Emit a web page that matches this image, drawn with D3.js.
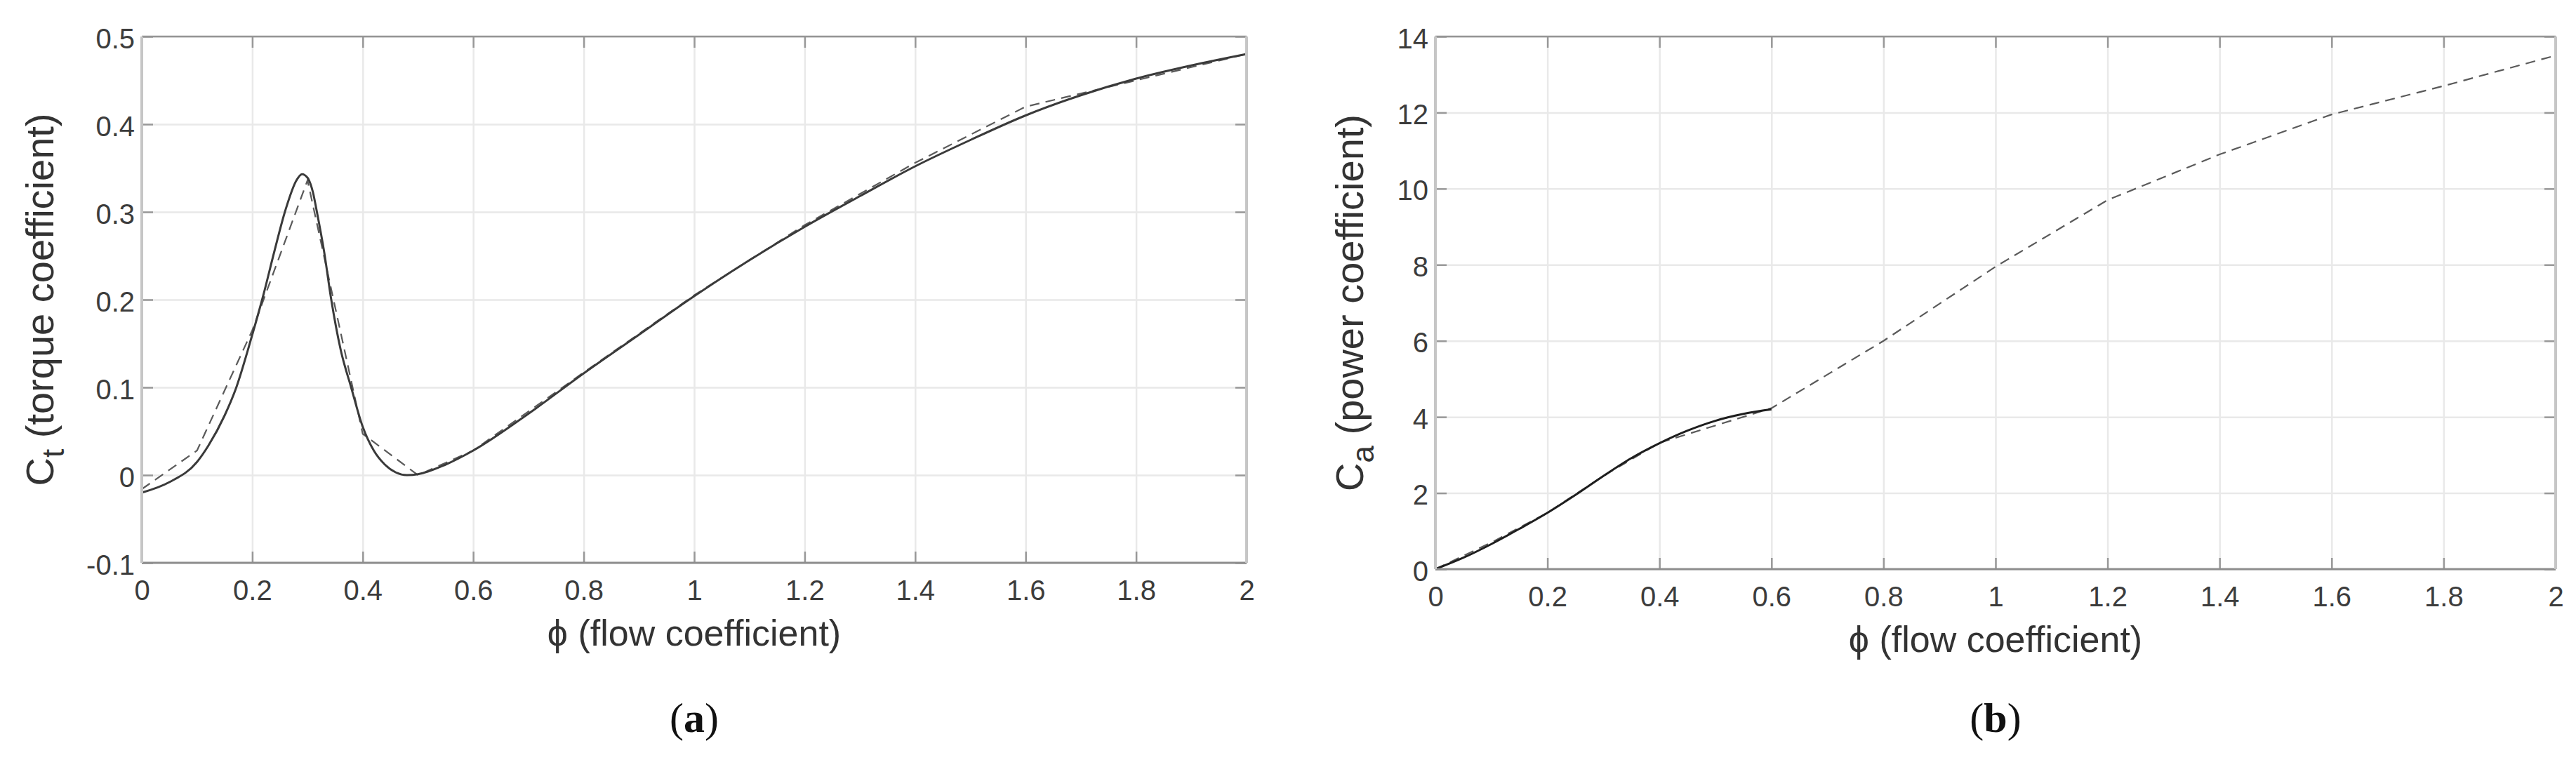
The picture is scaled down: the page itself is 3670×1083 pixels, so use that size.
<!DOCTYPE html>
<html>
<head>
<meta charset="utf-8">
<script src="https://cdn.jsdelivr.net/npm/d3@7"></script>
<style>
  html, body { margin: 0; padding: 0; background: #ffffff; }
  svg { display: block; }
</style>
</head>
<body>
<svg id="chart" width="3670" height="1083"></svg>
<script>
// ---------------- data ----------------
// Panel (a): torque coefficient
const ctSolidPhi = [0, 0.05, 0.1, 0.12, 0.15, 0.17, 0.2, 0.22, 0.24, 0.26, 0.28, 0.29, 0.3, 0.31, 0.317, 0.33, 0.343, 0.36, 0.379, 0.4, 0.42, 0.44, 0.46, 0.48, 0.5, 0.55, 0.6, 0.7, 0.8, 0.9, 1.0, 1.1, 1.2, 1.3, 1.4, 1.5, 1.6, 1.7, 1.8, 1.9, 2.0];
const ctSolidVal = [-0.020, -0.008, 0.015, 0.033, 0.068, 0.098, 0.160, 0.205, 0.255, 0.302, 0.336, 0.343, 0.339, 0.322, 0.300, 0.255, 0.200, 0.143, 0.100, 0.055, 0.028, 0.012, 0.003, 0.000, 0.001, 0.012, 0.028, 0.070, 0.116, 0.160, 0.204, 0.245, 0.283, 0.318, 0.352, 0.382, 0.410, 0.433, 0.452, 0.467, 0.480];
const ctDashPhi = [0, 0.1, 0.2, 0.3, 0.4, 0.5, 0.6, 0.8, 1.0, 1.2, 1.4, 1.6, 1.8, 2.0];
const ctDashVal = [-0.016, 0.028, 0.165, 0.336, 0.047, 0.000, 0.028, 0.117, 0.205, 0.285, 0.356, 0.420, 0.450, 0.480];

// Panel (b): power coefficient
const caSolidPhi = [0, 0.05, 0.1, 0.15, 0.2, 0.25, 0.3, 0.35, 0.4, 0.45, 0.5, 0.55, 0.6];
const caSolidVal = [0, 0.30, 0.66, 1.06, 1.48, 1.95, 2.45, 2.92, 3.31, 3.64, 3.90, 4.08, 4.20];
const caDashPhi = [0, 0.1, 0.2, 0.3, 0.4, 0.6, 0.8, 1.0, 1.2, 1.4, 1.6, 1.8, 2.0];
const caDashVal = [0, 0.70, 1.48, 2.45, 3.32, 4.23, 6.00, 7.95, 9.70, 10.90, 11.95, 12.70, 13.50];

// Ticks and labels
const xTicks = [0, 0.2, 0.4, 0.6, 0.8, 1, 1.2, 1.4, 1.6, 1.8, 2];
const xTickLabels = ["0", "0.2", "0.4", "0.6", "0.8", "1", "1.2", "1.4", "1.6", "1.8", "2"];
const ctTicks = [-0.1, 0, 0.1, 0.2, 0.3, 0.4, 0.5];
const ctTickLabels = ["-0.1", "0", "0.1", "0.2", "0.3", "0.4", "0.5"];
const caTicks = [0, 2, 4, 6, 8, 10, 12, 14];
const caTickLabels = ["0", "2", "4", "6", "8", "10", "12", "14"];

const xLabelText = "\u03D5 (flow coefficient)";
const panelNames = ["a", "b"];

// ---------------- layout ----------------
const svg = d3.select("#chart");
const FONT = "'Liberation Sans', Arial, Helvetica, sans-serif";

function drawPanel(cfg) {
  const x = d3.scaleLinear().domain([0, 2]).range([cfg.left, cfg.right]);
  const y = d3.scaleLinear().domain(cfg.yDomain).range([cfg.bottom, cfg.top]);
  const g = svg.append("g");
  const w = cfg.right - cfg.left, h = cfg.bottom - cfg.top;

  // grid
  g.append("g").attr("transform", `translate(0,${cfg.bottom})`)
    .call(d3.axisBottom(x).tickValues(xTicks).tickSize(-h).tickFormat(""))
    .call(s => { s.select(".domain").remove(); s.selectAll("line").attr("stroke", "#e9e9e9").attr("stroke-width", 2.5); });
  g.append("g").attr("transform", `translate(${cfg.left},0)`)
    .call(d3.axisLeft(y).tickValues(cfg.yTicks).tickSize(-w).tickFormat(""))
    .call(s => { s.select(".domain").remove(); s.selectAll("line").attr("stroke", "#e9e9e9").attr("stroke-width", 2.5); });

  // lines
  const solid = cfg.solidPhi.map((p, i) => [p, cfg.solidVal[i]]);
  const dash = cfg.dashPhi.map((p, i) => [p, cfg.dashVal[i]]);
  g.append("path").datum(dash)
    .attr("d", d3.line().x(d => x(d[0])).y(d => y(d[1])).curve(d3.curveLinear))
    .attr("fill", "none").attr("stroke", "#5a5a5a").attr("stroke-width", 2.2)
    .attr("stroke-dasharray", "14,9");
  g.append("path").datum(solid)
    .attr("d", d3.line().x(d => x(d[0])).y(d => y(d[1])).curve(d3.curveMonotoneX))
    .attr("fill", "none").attr("stroke", cfg.solidColor).attr("stroke-width", 3);

  // axes (box with inward ticks)
  const tickStyle = (s, col) => {
    s.select(".domain").remove();
    s.selectAll(".tick line").attr("stroke", col).attr("stroke-width", 2.5);
    s.selectAll("text").attr("font-family", FONT).attr("font-size", 40).attr("fill", "#3c3c3c");
  };
  g.append("g").attr("transform", `translate(0,${cfg.bottom})`)
    .call(d3.axisBottom(x).tickValues(xTicks).tickSize(-16).tickPadding(38).tickFormat((d, i) => xTickLabels[i]))
    .call(s => tickStyle(s, "#999"))
    .call(s => s.selectAll("text").attr("dy", "0.71em").attr("y", 25));
  g.append("g").attr("transform", `translate(0,${cfg.top})`)
    .call(d3.axisTop(x).tickValues(xTicks).tickSize(-16).tickFormat(""))
    .call(s => tickStyle(s, "#999"));
  g.append("g").attr("transform", `translate(${cfg.left},0)`)
    .call(d3.axisLeft(y).tickValues(cfg.yTicks).tickSize(-16).tickFormat((d, i) => cfg.yTickLabels[i]))
    .call(s => tickStyle(s, "#999"))
    .call(s => s.selectAll("text").attr("x", -10).attr("dy", "0.40em"));
  g.append("g").attr("transform", `translate(${cfg.right},0)`)
    .call(d3.axisRight(y).tickValues(cfg.yTicks).tickSize(-16).tickFormat(""))
    .call(s => tickStyle(s, "#999"));

  // box lines
  g.append("line").attr("x1", cfg.left).attr("x2", cfg.right).attr("y1", cfg.top).attr("y2", cfg.top)
    .attr("stroke", "#959595").attr("stroke-width", 2.5);
  g.append("line").attr("x1", cfg.left).attr("x2", cfg.right).attr("y1", cfg.bottom).attr("y2", cfg.bottom)
    .attr("stroke", "#8e8e8e").attr("stroke-width", 3);
  g.append("line").attr("x1", cfg.left).attr("x2", cfg.left).attr("y1", cfg.top).attr("y2", cfg.bottom)
    .attr("stroke", "#c6c6c6").attr("stroke-width", 4);
  g.append("line").attr("x1", cfg.right).attr("x2", cfg.right).attr("y1", cfg.top).attr("y2", cfg.bottom)
    .attr("stroke", "#c6c6c6").attr("stroke-width", 4);

  // x label
  g.append("text").attr("x", (cfg.left + cfg.right) / 2).attr("y", cfg.bottom + 118)
    .attr("text-anchor", "middle").attr("font-family", FONT).attr("font-size", 52).attr("fill", "#333")
    .text(xLabelText);

  // y label
  const yl = g.append("text")
    .attr("transform", `translate(${cfg.yLabelX},${(cfg.top + cfg.bottom) / 2}) rotate(-90)`)
    .attr("text-anchor", "middle").attr("font-family", FONT).attr("font-size", 56).attr("fill", "#333");
  yl.append("tspan").text("C");
  yl.append("tspan").attr("dy", 15).attr("font-size", 44).text(cfg.sub);
  yl.append("tspan").attr("dy", -15).text(" " + cfg.yLabel);

  // panel caption
  const cap = svg.append("text").attr("x", (cfg.left + cfg.right) / 2).attr("y", 1043)
    .attr("text-anchor", "middle").attr("font-family", "'Liberation Serif', 'Times New Roman', serif")
    .attr("font-size", 60).attr("fill", "#111");
  cap.append("tspan").text("(");
  cap.append("tspan").attr("font-weight", "bold").text(cfg.name);
  cap.append("tspan").text(")");
}

drawPanel({
  left: 202, right: 1776, top: 52, bottom: 802,
  yDomain: [-0.1, 0.5], yTicks: ctTicks, yTickLabels: ctTickLabels,
  solidPhi: ctSolidPhi, solidVal: ctSolidVal, dashPhi: ctDashPhi, dashVal: ctDashVal,
  solidColor: "#3a3a3a", yLabelX: 76, sub: "t", yLabel: "(torque coefficient)", name: panelNames[0]
});
drawPanel({
  left: 2045, right: 3641, top: 52, bottom: 811,
  yDomain: [0, 14], yTicks: caTicks, yTickLabels: caTickLabels,
  solidPhi: caSolidPhi, solidVal: caSolidVal, dashPhi: caDashPhi, dashVal: caDashVal,
  solidColor: "#1e1e1e", yLabelX: 1942, sub: "a", yLabel: "(power coefficient)", name: panelNames[1]
});
</script>
</body>
</html>
